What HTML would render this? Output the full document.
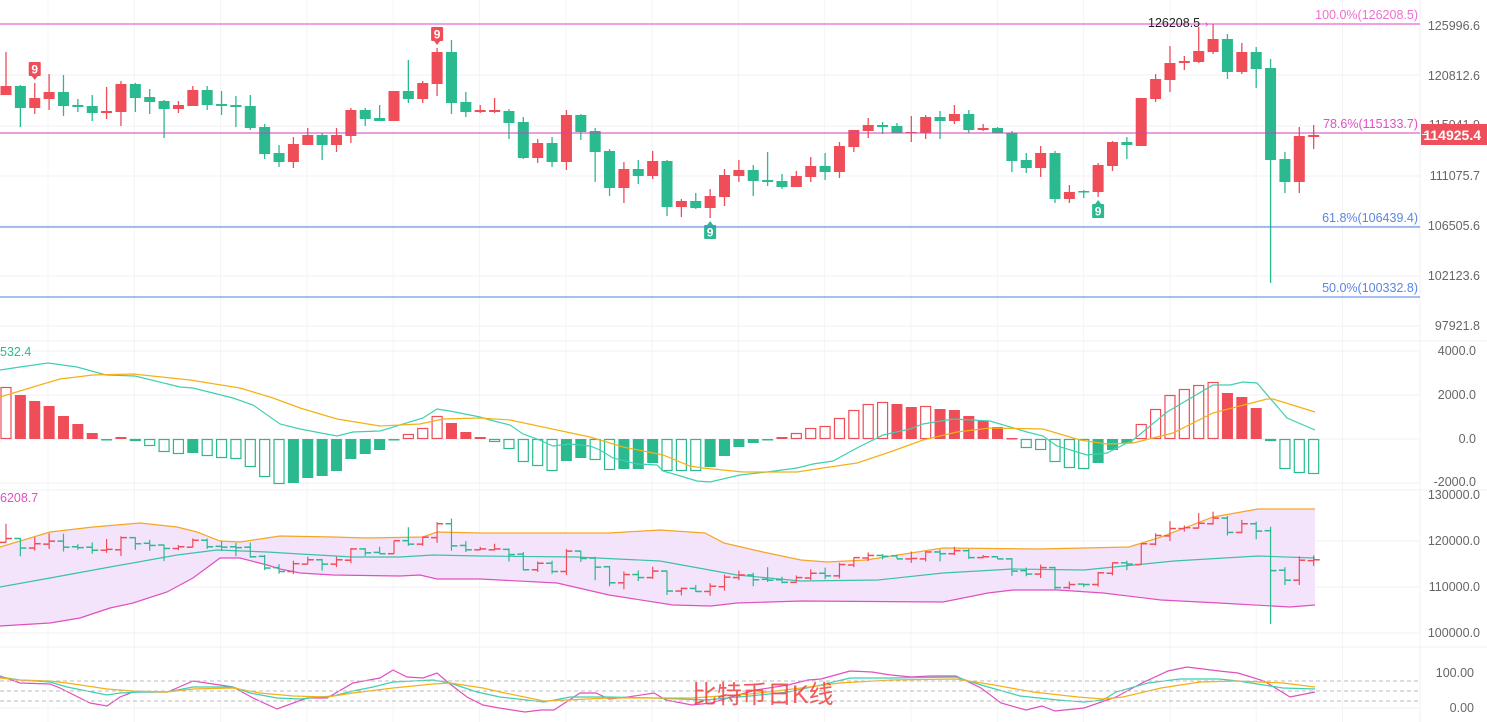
<!DOCTYPE html>
<html><head><meta charset="utf-8"><style>
html,body{margin:0;padding:0;background:#fff;width:1487px;height:722px;overflow:hidden}
svg{display:block;font-family:"Liberation Sans","Noto Sans CJK SC",sans-serif}
</style></head><body>
<svg id="s" width="1487" height="722" viewBox="0 0 1487 722" xmlns="http://www.w3.org/2000/svg">
<g stroke="#f2f2f4" stroke-width="1">
<line x1="0" y1="75" x2="1420" y2="75"/><line x1="0" y1="126" x2="1420" y2="126"/><line x1="0" y1="176" x2="1420" y2="176"/><line x1="0" y1="226" x2="1420" y2="226"/><line x1="0" y1="276" x2="1420" y2="276"/><line x1="0" y1="326" x2="1420" y2="326"/>
<line x1="0" y1="341" x2="1487" y2="341"/><line x1="0" y1="351" x2="1420" y2="351"/><line x1="0" y1="395" x2="1420" y2="395"/><line x1="0" y1="439" x2="1420" y2="439"/><line x1="0" y1="483" x2="1420" y2="483"/>
<line x1="0" y1="490" x2="1487" y2="490"/><line x1="0" y1="541" x2="1420" y2="541"/><line x1="0" y1="587" x2="1420" y2="587"/><line x1="0" y1="633" x2="1420" y2="633"/>
<line x1="0" y1="647" x2="1487" y2="647"/><line x1="0" y1="708" x2="1420" y2="708"/>
<line x1="1420" y1="0" x2="1420" y2="722"/>
</g>
<g id="vg" stroke="#f4f4f6"></g>
<g id="bb"></g>
<g id="main"></g>
<g id="macd"></g>
<g id="kdj"></g>
<g font-size="12.5" fill="#666">
<text x="1480" y="30" text-anchor="end">125996.6</text>
<text x="1480" y="80" text-anchor="end">120812.6</text>
<text x="1480" y="129" text-anchor="end">115941.9</text>
<text x="1480" y="180" text-anchor="end">111075.7</text>
<text x="1480" y="230" text-anchor="end">106505.6</text>
<text x="1480" y="280" text-anchor="end">102123.6</text>
<text x="1480" y="330" text-anchor="end">97921.8</text>
<text x="1476" y="355" text-anchor="end">4000.0</text>
<text x="1476" y="399" text-anchor="end">2000.0</text>
<text x="1476" y="443" text-anchor="end">0.0</text>
<text x="1476" y="486" text-anchor="end">-2000.0</text>
<text x="1480" y="499" text-anchor="end">130000.0</text>
<text x="1480" y="545" text-anchor="end">120000.0</text>
<text x="1480" y="591" text-anchor="end">110000.0</text>
<text x="1480" y="637" text-anchor="end">100000.0</text>
<text x="1474" y="677" text-anchor="end">100.00</text>
<text x="1474" y="712" text-anchor="end">0.00</text>
</g>
<rect x="1421" y="124" width="66" height="21" fill="#ef4f5a"/>
<line x1="1422" y1="134.5" x2="1427" y2="134.5" stroke="#fff"/>
<text x="1481" y="140" text-anchor="end" font-size="14" font-weight="bold" fill="#fff">114925.4</text>
<line x1="0" y1="24" x2="1420" y2="24" stroke="#e040c8"/>
<line x1="0" y1="133" x2="1420" y2="133" stroke="#d040b8"/>
<line x1="0" y1="227" x2="1420" y2="227" stroke="#4a80e0"/>
<line x1="0" y1="297" x2="1420" y2="297" stroke="#4a80e0"/>
<g font-size="12.5" text-anchor="end">
<text x="1418" y="19" fill="#f070d0">100.0%(126208.5)</text>
<text x="1418" y="128" fill="#e050c0">78.6%(115133.7)</text>
<text x="1418" y="222" fill="#5b86e5">61.8%(106439.4)</text>
<text x="1418" y="292" fill="#5b86e5">50.0%(100332.8)</text>
</g>
<text x="1148" y="27" font-size="12.5" fill="#222">126208.5</text>
<text x="1205" y="27" font-size="10" fill="#e040c8">›</text>
<text x="0" y="356" font-size="12.5" fill="#2bb98f">532.4</text>
<text x="0" y="502" font-size="12.5" fill="#e050c0">6208.7</text>
<g stroke="#bbb" stroke-dasharray="4,3"><line x1="0" y1="681" x2="1420" y2="681"/><line x1="0" y1="691" x2="1420" y2="691"/><line x1="0" y1="701" x2="1420" y2="701"/></g>
<text x="692" y="703" font-size="25" fill="#f04a4a" opacity="0.9">比特币日K线</text>
</svg>
<script>
var NS="http://www.w3.org/2000/svg";
function el(p,t,a){var e=document.createElementNS(NS,t);for(var k in a)e.setAttribute(k,a[k]);p.appendChild(e);return e;}
var R="#ef4d58",G="#2bb98f";
var vg=document.getElementById("vg");
for(var vx=48;vx<1420;vx+=86.3)el(vg,"line",{x1:vx,y1:0,x2:vx,y2:722});
var C=[[86,95,52,95,'r'],[86,108,85,127,'g'],[98,108,83,114,'r'],[92,99,74,110,'r'],[92,106,75,116,'g'],[105,107,99,112,'g'],[106,113,95,121,'g'],[111,113,87,119,'r'],[84,112,81,126,'r'],[84,98,83,112,'g'],
[97,102,89,114,'g'],[101,109,100,138,'g'],[105,109,101,113,'r'],[90,106,86,106,'r'],[90,105,86,110,'g'],[104,106,91,115,'g'],[105,107,96,127,'g'],[106,128,95,130,'g'],[127,154,124,159,'g'],[153,162,145,167,'g'],
[144,162,137,168,'r'],[135,145,128,145,'r'],[135,145,133,160,'g'],[135,145,128,152,'r'],[110,136,108,143,'r'],[110,119,108,126,'g'],[118,121,105,121,'g'],[91,121,91,121,'r'],[91,99,60,103,'g'],[83,99,81,103,'r'],
[52,84,48,96,'r'],[52,103,40,114,'g'],[102,112,92,117,'g'],[110,112,105,113,'r'],[110,112,98,113,'r'],[111,123,109,139,'g'],[122,158,117,159,'g'],[143,158,139,163,'r'],[143,162,137,167,'g'],[115,162,110,170,'r'],
[115,132,114,140,'g'],[131,152,128,182,'g'],[151,188,149,196,'g'],[169,188,162,203,'r'],[169,176,160,184,'g'],[161,176,151,179,'r'],[161,207,160,216,'g'],[201,207,199,217,'r'],[201,208,193,209,'g'],[196,208,189,218,'r'],
[175,197,169,206,'r'],[170,176,160,182,'r'],[170,181,165,196,'g'],[180,182,152,186,'g'],[181,187,174,189,'g'],[176,187,171,187,'r'],[166,177,157,182,'r'],[166,172,153,180,'g'],[146,172,142,178,'r'],[130,147,130,152,'r'],
[125,131,118,138,'r'],[125,127,122,134,'g'],[126,133,123,133,'g'],[132,133,116,142,'r'],[117,133,115,139,'r'],[117,121,111,139,'g'],[114,121,105,124,'r'],[114,130,110,133,'g'],[128,130,124,131,'r'],[128,133,127,133,'g'],
[133,161,131,172,'g'],[160,168,153,173,'g'],[153,168,146,177,'r'],[153,199,151,203,'g'],[192,199,185,203,'r'],[191,192,190,198,'g'],[165,192,163,197,'r'],[142,166,141,171,'r'],[142,145,137,159,'g'],[98,146,98,146,'r'],
[79,99,74,102,'r'],[63,80,46,92,'r'],[61,63,56,70,'r'],[51,62,27,63,'r'],[39,52,24,54,'r'],[39,72,34,79,'g'],[52,72,43,74,'r'],[52,69,47,88,'g'],[68,160,59,283,'g'],[159,182,152,193,'g'],[136,182,127,193,'r'],[135,137,125,149,'r']];
function X(i){return 6+i*14.37;}
var m=document.getElementById("main"),bb=document.getElementById("bb");
function py(y){return 511.6+0.4341*(y-24);}
function line(p,pts,c,w){el(p,"polyline",{points:pts.map(function(q){return q[0]+","+q[1]}).join(" "),fill:"none",stroke:c,"stroke-width":w||1.2});}
var up=[[0,547],[50,532],[93,527],[140,523],[177,527],[197,532],[220,541],[240,542],[280,536],[333,537],[367,538],[423,537],[437,532],[480,533],[609,533],[660,530],[705,533],[724,543],[763,552],[801,560],[827,562],[866,560],[943,548],[1039,549],[1129,547],[1161,537],[1213,517],[1258,509],[1315,509]];
var mid=[[0,587],[50,578],[110,567],[177,555],[217,550],[267,552],[300,554],[353,557],[400,557],[433,555],[480,556],[576,557],[660,561],[737,575],[801,581],[878,580],[943,573],[1013,569],[1084,570],[1174,561],[1258,556],[1315,558]];
var lo=[[0,626],[50,623],[80,618],[110,608],[133,603],[167,592],[193,578],[220,558],[240,558],[267,565],[280,569],[300,573],[333,575],[400,576],[420,575],[437,579],[480,579],[557,583],[609,595],[673,605],[711,606],[737,603],[801,601],[943,602],[988,593],[1013,590],[1058,590],[1103,593],[1161,600],[1219,603],[1290,607],[1315,605]];
var fp=up.concat(lo.slice().reverse());
el(bb,"polygon",{points:fp.map(function(q){return q[0]+","+q[1]}).join(" "),fill:"#f3e4fc"});
line(bb,up,"#f5a623");line(bb,mid,"#3cc1a8");line(bb,lo,"#e14fc0");
C.forEach(function(c,i){var x=X(i),col=c[4]=='r'?R:G;
 el(m,"line",{x1:x,y1:c[2],x2:x,y2:c[3],stroke:col,"stroke-width":1.3});
 el(m,"rect",{x:x-5.5,y:c[0],width:11,height:Math.max(1.5,c[1]-c[0]),fill:col});
 var o=c[4]=='r'?c[1]:c[0],cl=c[4]=='r'?c[0]:c[1];
 el(bb,"line",{x1:x,y1:py(c[2]),x2:x,y2:py(c[3]),stroke:col,"stroke-width":1.2});
 el(bb,"line",{x1:x-6,y1:py(o),x2:x,y2:py(o),stroke:col,"stroke-width":1.5});
 el(bb,"line",{x1:x,y1:py(cl),x2:x+6,y2:py(cl),stroke:col,"stroke-width":1.5});
});
function nine(x,y,col,down){var g=el(m,"g",{});el(g,"rect",{x:x-6,y:y,width:12,height:14,fill:col,rx:1});
 if(down)el(g,"polygon",{points:(x-3)+","+(y+14)+" "+(x+3)+","+(y+14)+" "+x+","+(y+18),fill:col});
 else el(g,"polygon",{points:(x-3)+","+y+" "+(x+3)+","+y+" "+x+","+(y-4),fill:col});
 var t=el(g,"text",{x:x,y:y+11.5,"text-anchor":"middle","font-size":"12",fill:"#fff","font-weight":"bold"});t.textContent="9";}
nine(X(2),62,R,true);nine(X(30),27,R,true);nine(X(49),225,G,false);nine(X(76),204,G,false);
var M=[[387,'r'],[395,'R'],[401,'R'],[406,'R'],[416,'R'],[424,'R'],[433,'R'],[440,'G'],[437,'R'],[441,'g'],[446,'g'],[452,'g'],[454,'g'],[453,'G'],[456,'g'],[458,'g'],[459,'g'],[467,'g'],[477,'g'],[484,'g'],[483,'G'],[478,'G'],[476,'G'],[471,'G'],[459,'G'],[454,'G'],[450,'G'],[440,'G'],[434,'r'],[428,'r'],[416,'r'],[423,'R'],[432,'R'],[437,'R'],[442,'g'],[449,'g'],[462,'g'],[466,'g'],[471,'g'],[461,'G'],[458,'G'],[460,'g'],[470,'g'],[469,'G'],[469,'G'],[463,'G'],[471,'g'],[471,'g'],[471,'g'],[467,'G'],[456,'G'],[447,'G'],[443,'G'],[440,'G'],[437,'R'],[433,'r'],[428,'r'],[426,'r'],[418,'r'],[410,'r'],[404,'r'],[402,'r'],[404,'R'],[407,'R'],[406,'r'],[409,'R'],[410,'R'],[416,'R'],[421,'R'],[427,'R'],[438,'R'],[448,'g'],[450,'g'],[462,'g'],[468,'g'],[469,'g'],[463,'G'],[450,'G'],[443,'G'],[424,'r'],[409,'r'],[395,'r'],[389,'r'],[385,'r'],[382,'r'],[393,'R'],[397,'R'],[408,'R'],[441,'g'],[469,'g'],[473,'g'],[474,'g']];
var mg=document.getElementById("macd"),Z=439;
M.forEach(function(b,i){var x=X(i),y=b[0],t=b[1],col=(t=='r'||t=='R')?R:G;var y0=Math.min(y,Z),h=Math.max(1.5,Math.abs(y-Z));
 if(t=='R'||t=='G')el(mg,"rect",{x:x-5.5,y:y0,width:11,height:h,fill:col});
 else el(mg,"rect",{x:x-5,y:y0+0.5,width:10,height:Math.max(1,h-1),fill:"none",stroke:col,"stroke-width":1.2});});
line(mg,[[0,370],[20,367],[48,363],[77,367],[106,375],[135,376],[180,387],[193,388],[233,398],[253,405],[280,424],[300,429],[337,436],[353,432],[380,431],[423,418],[437,409],[450,411],[480,417],[490,420],[510,425],[523,434],[537,439],[553,446],[570,444],[590,446],[600,450],[613,458],[637,464],[657,465],[663,471],[677,475],[697,481],[710,482],[740,475],[767,472],[797,468],[813,464],[833,461],[857,448],[883,435],[910,429],[923,424],[953,419],[990,421],[1027,432],[1043,436],[1057,446],[1087,455],[1107,453],[1133,440],[1167,412],[1213,385],[1230,385],[1243,382],[1257,383],[1287,418],[1315,430]],"#3fd0b0");
line(mg,[[0,397],[33,387],[60,379],[93,375],[133,374],[190,380],[240,388],[273,398],[300,408],[337,419],[380,426],[420,424],[443,419],[480,418],[510,420],[557,430],[590,437],[623,447],[663,455],[690,466],[703,468],[743,472],[797,472],[823,468],[857,463],[890,452],[923,440],[957,432],[990,428],[1043,429],[1080,440],[1107,444],[1133,443],[1153,438],[1173,433],[1213,413],[1267,399],[1273,399],[1315,412]],"#f5b014");
var kg=document.getElementById("kdj");
line(kg,[[0,676],[20,683],[50,684],[60,688],[90,703],[107,706],[120,697],[133,692],[167,692],[177,688],[193,681],[233,687],[253,698],[277,709],[307,698],[327,698],[353,683],[380,678],[393,670],[407,677],[423,678],[437,673],[450,684],[467,697],[483,705],[499,708],[525,712],[541,710],[554,710],[580,693],[596,693],[609,699],[628,697],[654,693],[666,700],[692,705],[711,703],[731,697],[756,690],[788,685],[808,680],[821,679],[850,671],[872,672],[891,675],[911,677],[930,676],[956,676],[981,688],[1001,703],[1026,710],[1042,706],[1055,711],[1084,708],[1116,697],[1142,683],[1168,671],[1187,667],[1219,671],[1238,673],[1264,681],[1290,697],[1315,692]],"#e14fc0");
line(kg,[[0,677],[20,680],[50,682],[67,687],[107,695],[120,693],[140,692],[167,692],[193,687],[233,687],[250,693],[277,698],[300,699],[320,697],[333,696],[353,691],[373,687],[393,682],[433,680],[450,683],[477,692],[500,697],[544,702],[570,697],[609,697],[654,698],[705,700],[750,696],[788,692],[821,685],[850,678],[891,678],[956,677],[981,685],[1020,696],[1058,700],[1084,702],[1103,700],[1116,692],[1148,683],[1180,679],[1219,679],[1238,681],[1283,688],[1315,689]],"#3fd0b0");
line(kg,[[0,678],[20,680],[50,681],[67,683],[107,689],[133,691],[167,692],[193,689],[233,688],[260,693],[293,696],[327,697],[353,693],[393,688],[433,684],[450,683],[483,688],[500,692],[544,701],[609,698],[692,698],[750,694],[801,688],[840,683],[891,680],[956,679],[994,685],[1033,692],[1078,697],[1103,699],[1123,697],[1161,688],[1200,682],[1238,681],[1283,683],[1315,687]],"#f5b014");
</script>
</body></html>
